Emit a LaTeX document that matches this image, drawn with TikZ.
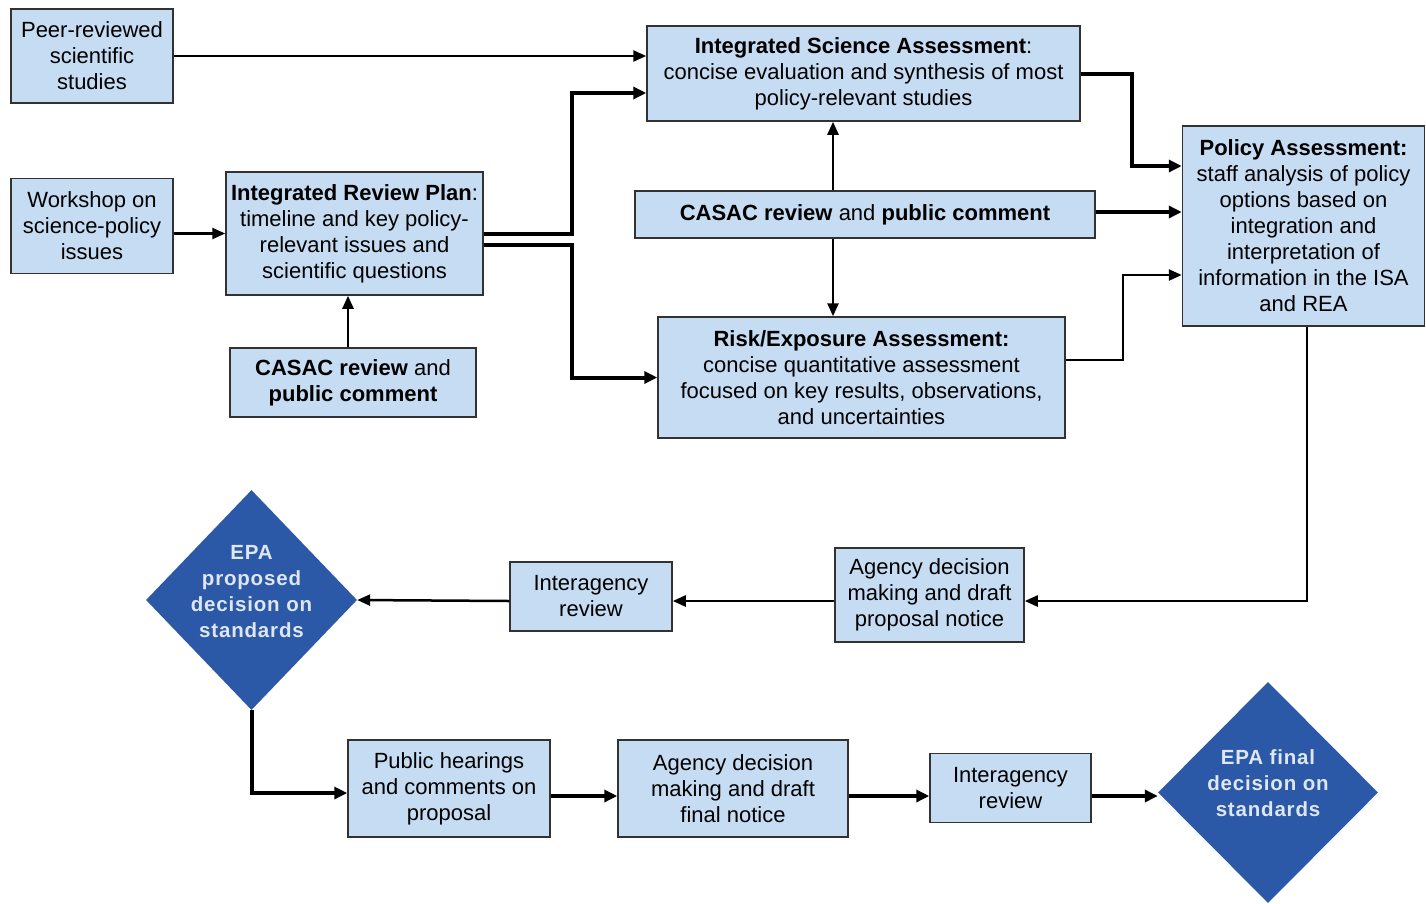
\documentclass[tikz,border=0pt]{standalone}
\usepackage{fontspec}
\setmainfont{Liberation Sans}
\usetikzlibrary{arrows.meta,shapes.geometric}
\definecolor{boxfill}{RGB}{198,220,242}
\definecolor{boxline}{RGB}{50,50,50}
\definecolor{dia}{RGB}{44,88,168}
\definecolor{diatext}{RGB}{222,230,240}
\newcommand{\diatxt}[1]{\raisebox{2pt}[0pt][0pt]{\begin{tabular}{@{}c@{}}#1\end{tabular}}}
\tikzset{
  box/.style={draw=boxline, line width=1.5pt, fill=boxfill, align=center, inner sep=0pt,
    font=\fontsize{22}{26}\selectfont},
  diam/.style={diamond, fill=dia, draw=none, inner sep=0pt, text=diatext,
    font=\fontsize{20.5}{26}\selectfont\bfseries\addfontfeatures{LetterSpace=4}},
  arr/.style={line width=2.5pt, -{Triangle[length=13pt,width=11pt]}},
  thk/.style={line width=4pt, -{Triangle[length=13pt,width=12pt]}},
}
\begin{document}
\begin{tikzpicture}[x=1pt,y=-1pt]
\useasboundingbox (0,0) rectangle (1426,903);
\fill[white] (0,0) rectangle (1426,903);
% boxes
\node[box, minimum width=162pt, minimum height=94pt] (peer) at (92,56) {Peer-reviewed\\scientific\\studies};
\node[box, minimum width=162pt, minimum height=95pt] (work) at (92,226) {Workshop on\\science-policy\\issues};
\node[box, minimum width=257pt, minimum height=123pt] (irp) at (354.5,233.5) {\textbf{Integrated Review Plan}:\\timeline and key policy-\\relevant issues and\\scientific questions};
\node[box, minimum width=246pt, minimum height=69pt] (cas1) at (353,382.5) {\textbf{CASAC review} and\\\textbf{public comment}};
\node[box, minimum width=433pt, minimum height=95pt] (isa) at (863.5,73.5) {\textbf{Integrated Science Assessment}:\\concise evaluation and synthesis of most\\policy-relevant studies};
\node[box, minimum width=460pt, minimum height=47pt] (cas2) at (865,214.5) {\textbf{CASAC review} and \textbf{public comment}};
\node[box, minimum width=407pt, minimum height=121pt] (rea) at (861.5,377.5) {\textbf{Risk/Exposure Assessment:}\\concise quantitative assessment\\focused on key results, observations,\\and uncertainties};
\node[box, minimum width=242pt, minimum height=200pt] (pa) at (1303.5,226) {\textbf{Policy Assessment:}\\staff analysis of policy\\options based on\\integration and\\interpretation of\\information in the ISA\\and REA};
\node[box, minimum width=189pt, minimum height=94pt] (ag1) at (929.5,595) {Agency decision\\making and draft\\proposal notice};
\node[box, minimum width=162pt, minimum height=69pt] (int1) at (591,596.5) {Interagency\\review};
\node[diam, minimum width=211pt, minimum height=220pt] (epa1) at (251.5,600) {\diatxt{EPA\\proposed\\decision on\\standards}};
\node[box, minimum width=202pt, minimum height=97pt] (pub) at (449,788.5) {Public hearings\\and comments on\\proposal};
\node[box, minimum width=230pt, minimum height=97pt] (ag2) at (733,788.5) {Agency decision\\making and draft\\final notice};
\node[box, minimum width=161pt, minimum height=69pt] (int2) at (1010.5,788) {Interagency\\review};
\node[diam, minimum width=220pt, minimum height=221pt] (epa2) at (1268,792.5) {\diatxt{EPA final\\decision on\\standards}};
% connectors
\draw[arr] (peer.east) -- (peer.east -| isa.west);
\draw[arr] (work.east |- irp.west) -- (irp.west);
\draw[thk] (irp.east) -- ++(88,0) |- ([yshift=-19.5pt]isa.west);
\draw[thk] ([yshift=-11pt]irp.east) -- ++(88,0) |- (rea.west);
\draw[arr] ([xshift=-5pt]cas1.north) -- ([xshift=-6.5pt]irp.south);
\draw[arr] ([xshift=-32pt]cas2.north) -- ([xshift=-30.5pt]isa.south);
\draw[arr] ([xshift=-32pt]cas2.south) -- ([xshift=-28.5pt]rea.north);
\draw[thk] ([yshift=2.5pt]cas2.east) -- ([yshift=2.5pt]cas2.east -| pa.west);
\draw[thk] (isa.east) -- ++(51,0) |- ([yshift=60pt]pa.west);
\draw[arr] ([yshift=17.5pt]rea.east) -- ++(57,0) |- ([yshift=-49pt]pa.west);
\draw[arr] ([xshift=3.5pt]pa.south) |- ([yshift=-6pt]ag1.east);
\draw[arr] ([yshift=-6pt]ag1.west) -- ([yshift=-4.5pt]int1.east);
\draw[arr] ([yshift=-4.5pt]int1.west) -- (epa1.east);
\draw[thk] (epa1.south) |- ([yshift=-4.5pt]pub.west);
\draw[thk] ([yshift=-7.5pt]pub.east) -- ([yshift=-7.5pt]ag2.west);
\draw[thk] ([yshift=-7.5pt]ag2.east) -- ([yshift=-8pt]int2.west);
\draw[thk] ([yshift=-8pt]int2.east) -- ([yshift=-3.5pt]epa2.west);
\end{tikzpicture}
\end{document}
